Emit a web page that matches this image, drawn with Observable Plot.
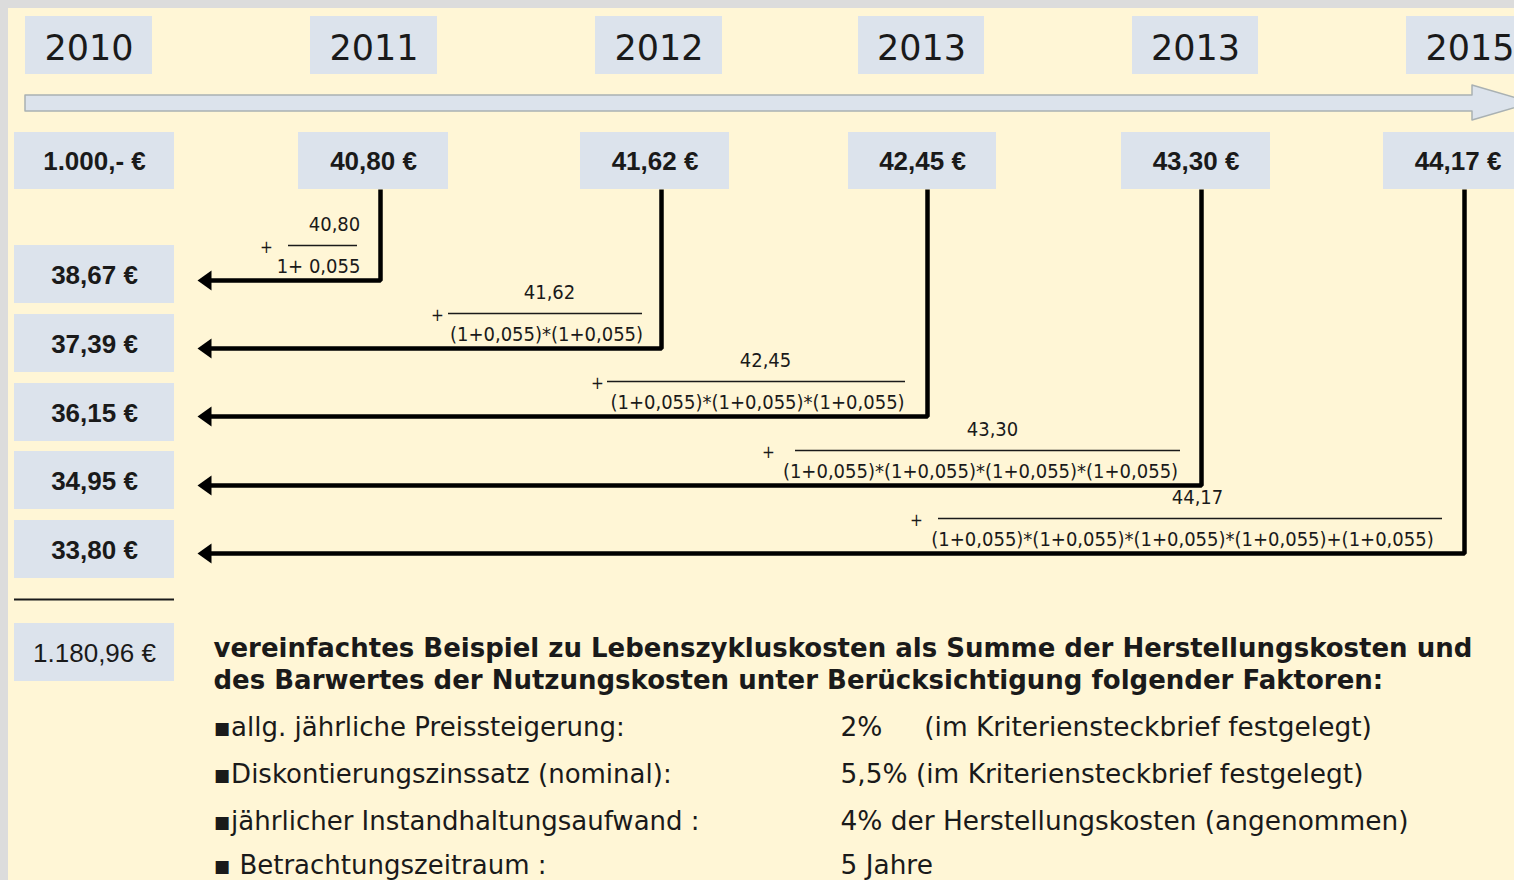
<!DOCTYPE html>
<html>
<head>
<meta charset="utf-8">
<script src="https://cdn.jsdelivr.net/npm/d3@7"></script>
<script src="https://cdn.jsdelivr.net/npm/@observablehq/plot@0.6"></script>
<style>
  html, body { margin: 0; padding: 0; background: #fff6d6; overflow: hidden; }
  #chart svg { display: block; }
</style>
</head>
<body>
<div id="chart"></div>
<script>
// ---------- data ----------
const years = ["2010", "2011", "2012", "2013", "2013", "2015"];
const costs = ["1.000,- €", "40,80 €", "41,62 €", "42,45 €", "43,30 €", "44,17 €"];
const presentValues = ["38,67 €", "37,39 €", "36,15 €", "34,95 €", "33,80 €"];
const totalValue = "1.180,96 €";
const numerators = ["40,80", "41,62", "42,45", "43,30", "44,17"];
const denominators = [
  "1+ 0,055",
  "(1+0,055)*(1+0,055)",
  "(1+0,055)*(1+0,055)*(1+0,055)",
  "(1+0,055)*(1+0,055)*(1+0,055)*(1+0,055)",
  "(1+0,055)*(1+0,055)*(1+0,055)*(1+0,055)+(1+0,055)"
];
const titleLines = [
  "vereinfachtes Beispiel zu Lebenszykluskosten als Summe der Herstellungskosten und",
  "des Barwertes der Nutzungskosten unter Berücksichtigung folgender Faktoren:"
];
const factorLabels = [
  "▪allg. jährliche Preissteigerung:",
  "▪Diskontierungszinssatz (nominal):",
  "▪jährlicher Instandhaltungsaufwand :",
  "▪ Betrachtungszeitraum :"
];
const factorValues = [
  "2%     (im Kriteriensteckbrief festgelegt)",
  "5,5% (im Kriteriensteckbrief festgelegt)",
  "4% der Herstellungskosten (angenommen)",
  "5 Jahre"
];

// ---------- layout (pixel positions of the diagram) ----------
const W = 1514, H = 880;
const yearBoxX = [[25, 152], [310, 437], [595, 722], [858, 984], [1132, 1258], [1406, 1533]];
const costBoxX = [[14, 174], [298, 448], [580, 729], [848, 996], [1121, 1270], [1383, 1533]];
const pvBoxY = [[245, 303], [314, 372], [383, 441], [451, 509], [520, 578]];
const arrowX = [380, 661, 927, 1201, 1464];
const arrowY = [280, 348, 416, 485, 553];
const fracLine = [[288, 357], [448, 642], [607, 905], [795, 1180], [938, 1442]];
const fracNumX = [334, 549, 765, 992, 1197];
const fracDenX = [318, 546, 757, 980, 1182];
const plusX = [266, 437, 597, 768, 916];
const factorY = [727, 774, 821, 865];

const boxFill = "#dce3ec";
const ink = "#1a1a1a";
const narrow = "'DejaVu Sans Condensed', 'DejaVu Sans', sans-serif";
const dejavu = "'DejaVu Sans', Verdana, sans-serif";
const arial = "'Liberation Sans', Arial, sans-serif";

// tables
const yearTable = years.map((label, i) => ({label, x1: yearBoxX[i][0], x2: yearBoxX[i][1], y1: 16, y2: 74}));
const costTable = costs.map((label, i) => ({label, x1: costBoxX[i][0], x2: costBoxX[i][1], y1: 132, y2: 189}));
const pvTable = presentValues.map((label, i) => ({label, x1: 14, x2: 174, y1: pvBoxY[i][0], y2: pvBoxY[i][1]}));
const totalTable = [{label: totalValue, x1: 14, x2: 174, y1: 623, y2: 681}];
const arrowPaths = arrowX.flatMap((x, i) => [
  {i, x, y: 189},
  {i, x, y: arrowY[i]},
  {i, x: 206, y: arrowY[i]}
]);
const heads = arrowY.map(y => ({x: 205, y}));
const fracs = numerators.map((num, i) => ({
  num, den: denominators[i],
  x1: fracLine[i][0], x2: fracLine[i][1],
  yl: arrowY[i] - 35,
  numX: fracNumX[i], denX: fracDenX[i], plusX: plusX[i]
}));
const timeline = [
  {x: 25, y1: 95, y2: 111},
  {x: 1472, y1: 95, y2: 111},
  {x: 1472, y1: 85, y2: 120},
  {x: 1532, y1: 102.5, y2: 102.5}
];

const leftTriangle = {
  draw(ctx) {
    ctx.moveTo(-8, 0);
    ctx.lineTo(6, -10);
    ctx.lineTo(6, 10);
    ctx.closePath();
  }
};

const center = d => (d.x1 + d.x2) / 2;
const middle = d => (d.y1 + d.y2) / 2;

const chart = Plot.plot({
  width: W,
  height: H,
  margin: 0,
  x: {domain: [0, W], range: [0, W], axis: null},
  y: {domain: [0, H], range: [0, H], axis: null},
  style: {background: "#fff6d6", overflow: "hidden"},
  marks: [
    // gray frame at top and left
    Plot.rect([{x1: 0, x2: W, y1: 0, y2: 8}, {x1: 0, x2: 8, y1: 0, y2: H}], {x1: "x1", x2: "x2", y1: "y1", y2: "y2", fill: "#dcdcdc"}),
    // timeline arrow
    Plot.areaY(timeline, {x: "x", y1: "y1", y2: "y2", fill: boxFill, stroke: "#a9b1b3", strokeWidth: 1.5, curve: "linear"}),
    // year boxes
    Plot.rect(yearTable, {x1: "x1", x2: "x2", y1: "y1", y2: "y2", fill: boxFill}),
    Plot.text(yearTable, {x: center, y: d => middle(d) + 3, text: "label", fontSize: 35, fontFamily: dejavu, fill: ink}),
    // cost boxes
    Plot.rect(costTable, {x1: "x1", x2: "x2", y1: "y1", y2: "y2", fill: boxFill}),
    Plot.text(costTable, {x: d => (d.x1 + Math.min(d.x2, W)) / 2 + (d.x2 > W ? 9 : 0), y: d => middle(d) + 1, text: "label", fontSize: 26, fontWeight: "bold", fontFamily: arial, fill: ink}),
    // present value boxes
    Plot.rect(pvTable, {x1: "x1", x2: "x2", y1: "y1", y2: "y2", fill: boxFill}),
    Plot.text(pvTable, {x: center, y: d => middle(d) + 1, text: "label", fontSize: 26, fontWeight: "bold", fontFamily: arial, fill: ink}),
    // separator and total
    Plot.ruleY([599], {x1: 14, x2: 174, stroke: ink, strokeWidth: 2}),
    Plot.rect(totalTable, {x1: "x1", x2: "x2", y1: "y1", y2: "y2", fill: boxFill}),
    Plot.text(totalTable, {x: center, y: d => middle(d) + 1, text: "label", fontSize: 26, fontFamily: arial, fill: ink}),
    // discount arrows
    Plot.line(arrowPaths, {x: "x", y: "y", z: "i", stroke: "#000", strokeWidth: 4.5, strokeLinejoin: "miter", strokeLinecap: "butt", curve: "linear"}),
    Plot.dot(heads, {x: "x", y: "y", symbol: leftTriangle, fill: "#000", stroke: "none", r: 8}),
    // fractions
    Plot.ruleY(fracs, {x1: "x1", x2: "x2", y: "yl", stroke: ink, strokeWidth: 1.5}),
    Plot.text(fracs, {x: "numX", y: d => d.yl - 21, text: "num", fontSize: 20, fontFamily: narrow, fill: ink}),
    Plot.text(fracs, {x: "denX", y: d => d.yl + 21, text: "den", fontSize: 20, fontFamily: narrow, fill: ink}),
    Plot.text(fracs, {x: "plusX", y: d => d.yl + 2, text: () => "+", fontSize: 17, fontFamily: narrow, fill: ink}),
    // explanatory text
    Plot.text(titleLines, {x: 213, y: (d, i) => 648 + i * 32, text: d => d, textAnchor: "start", fontSize: 26, fontWeight: "bold", fontFamily: dejavu, fill: ink}),
    Plot.text(factorLabels, {x: 213, y: (d, i) => factorY[i], text: d => d, textAnchor: "start", fontSize: 26, fontFamily: dejavu, fill: ink}),
    Plot.text(factorValues, {x: 840, y: (d, i) => factorY[i], text: d => d, textAnchor: "start", fontSize: 26.4, fontFamily: dejavu, fill: ink})
  ]
});
// keep multiple spaces in the factor values
chart.querySelectorAll("text").forEach(t => t.setAttribute("xml:space", "preserve"));
chart.style.whiteSpace = "pre";
document.getElementById("chart").appendChild(chart);
</script>
</body>
</html>
